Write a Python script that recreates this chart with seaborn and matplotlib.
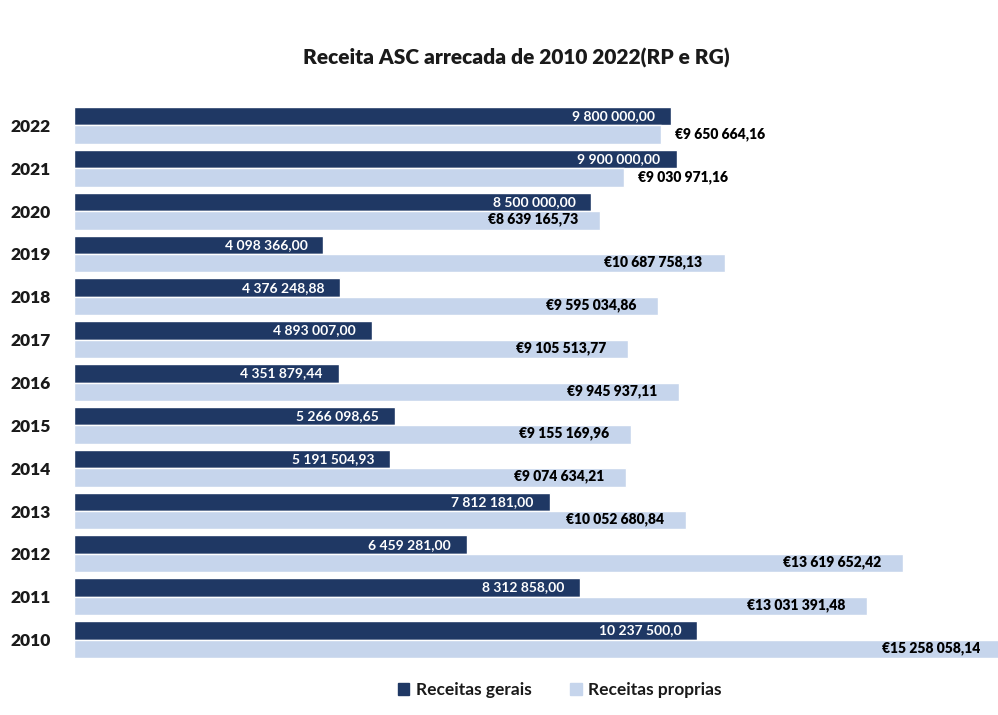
import matplotlib
matplotlib.use("Agg")
import matplotlib.pyplot as plt
import seaborn as sns
import pandas as pd

# Revenue per year (ASC), general vs own revenue
years = ["2022", "2021", "2020", "2019", "2018", "2017", "2016",
         "2015", "2014", "2013", "2012", "2011", "2010"]
receitas_gerais = [9800000.00, 9900000.00, 8500000.00, 4098366.00, 4376248.88,
                   4893007.00, 4351879.44, 5266098.65, 5191504.93, 7812181.00,
                   6459281.00, 8312858.00, 10237500.00]
receitas_proprias = [9650664.16, 9030971.16, 8639165.73, 10687758.13, 9595034.86,
                     9105513.77, 9945937.11, 9155169.96, 9074634.21, 10052680.84,
                     13619652.42, 13031391.48, 15258058.14]
series_names = ["Receitas gerais", "Receitas proprias"]
title = "Receita ASC arrecada de 2010 2022(RP e RG)"

DARK = "#1f3864"
LIGHT = "#c6d5ec"
FONT = ["Lato", "DejaVu Sans"]


def fmt(v, euro=False, decimals=2):
    s = f"{v:,.{decimals}f}".replace(",", " ").replace(".", ",")
    return ("€" if euro else "") + s


df = pd.DataFrame({
    "ano": years * 2,
    "valor": receitas_gerais + receitas_proprias,
    "serie": [series_names[0]] * len(years) + [series_names[1]] * len(years),
})

sns.set_theme(style="white")
plt.rcParams["font.family"] = FONT

fig = plt.figure(figsize=(9.98, 7.15), dpi=100)
ax = fig.add_axes([74 / 998, 1 - 661 / 715, 1 - 74 / 998, (661 - 104) / 715])

sns.barplot(data=df, y="ano", x="valor", hue="serie", order=years,
            hue_order=series_names, palette={series_names[0]: DARK, series_names[1]: LIGHT},
            orient="h", width=0.86, saturation=1, ax=ax, legend=True)

ax.set_xlim(0, 15.18e6)
ax.set_xlabel("")
ax.set_ylabel("")
ax.set_xticks([])
for s in ax.spines.values():
    s.set_visible(False)
ax.tick_params(axis="y", length=0, pad=17)
for lab in ax.get_yticklabels():
    lab.set_fontsize(12.5)
    lab.set_fontweight("heavy")
    lab.set_color("#1a1a1a")

# value labels
rg_bars, rp_bars = ax.containers[0], ax.containers[1]
for bar, v in zip(rg_bars, receitas_gerais):
    yc = bar.get_y() + bar.get_height() / 2
    txt = fmt(v, decimals=1) if v == receitas_gerais[-1] else fmt(v)
    ax.annotate(txt, (v, yc), xytext=(-16, 0), textcoords="offset pixels",
                ha="right", va="center", color="white", fontsize=10,
                fontweight="bold", annotation_clip=False)
for bar, v, g in zip(rp_bars, receitas_proprias, receitas_gerais):
    yc = bar.get_y() + bar.get_height() / 2
    if v < g:
        ax.annotate(fmt(v, euro=True), (v, yc), xytext=(14, 0), textcoords="offset pixels",
                    ha="left", va="center", color="black", fontsize=10, fontweight="heavy",
                    annotation_clip=False)
    else:
        ax.annotate(fmt(v, euro=True), (v, yc), xytext=(-22, 1), textcoords="offset pixels",
                    ha="right", va="center", color="black", fontsize=10, fontweight="heavy",
                    annotation_clip=False)

fig.text(516 / 998, 1 - 58 / 715, title, ha="center", va="center",
         fontsize=15, fontweight="heavy", color="#1a1a1a")

ax.get_legend().remove()
handles = [plt.Rectangle((0, 0), 1, 1, color=DARK), plt.Rectangle((0, 0), 1, 1, color=LIGHT)]
leg = fig.legend(handles, series_names, loc="center", bbox_to_anchor=(560 / 998, 1 - 690 / 715),
                 ncol=2, frameon=False, handlelength=0.65, handleheight=0.65, handletextpad=0.4,
                 columnspacing=2.2, fontsize=12.5)
for t in leg.get_texts():
    t.set_fontweight("bold")
    t.set_color("#1a1a1a")

fig.savefig("out.png", dpi=100, facecolor="white")
